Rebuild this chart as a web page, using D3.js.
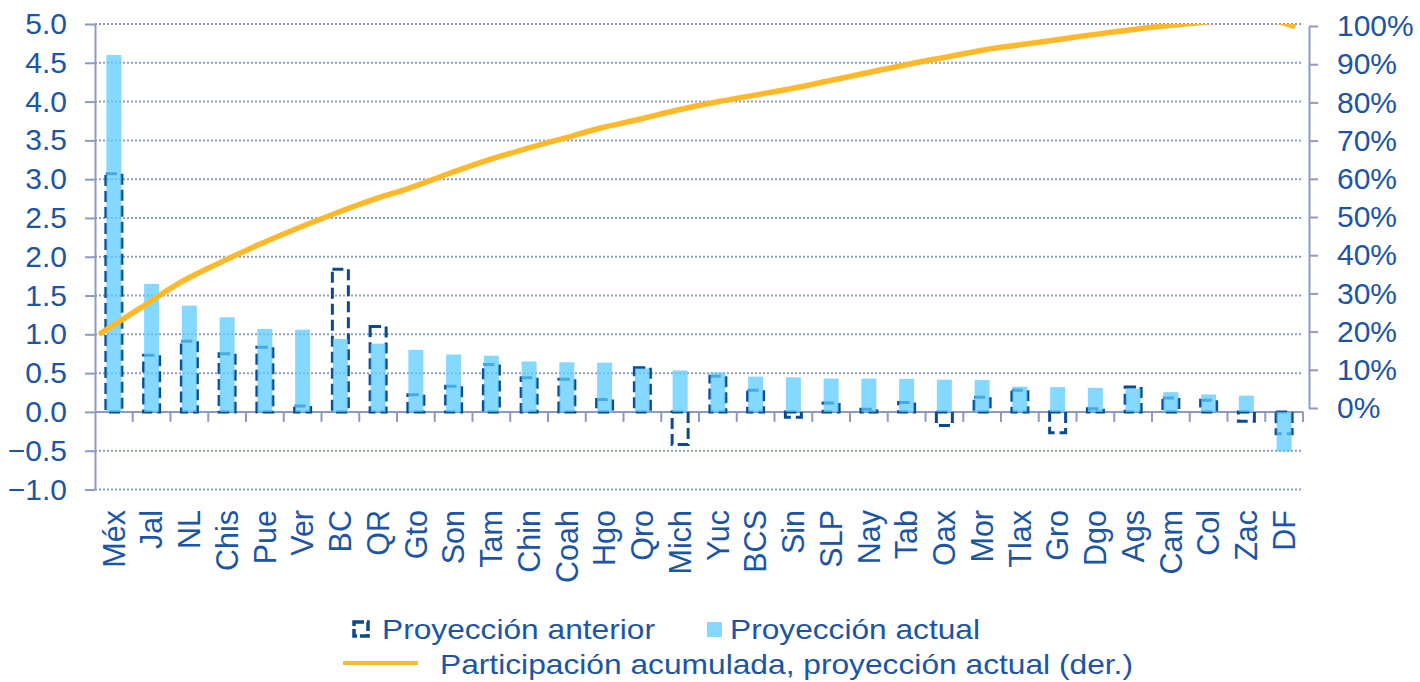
<!DOCTYPE html>
<html>
<head>
<meta charset="utf-8">
<script src="https://cdn.jsdelivr.net/npm/d3@7"></script>
<style>
  body { margin: 0; background: #fff; }
  svg { display: block; font-family: "Liberation Sans", Arial, sans-serif; }
</style>
</head>
<body>
<div id="chart"></div>
<script>
// States (x categories)
const states = ["Méx", "Jal", "NL", "Chis", "Pue", "Ver", "BC", "QR", "Gto", "Son", "Tam", "Chin",
  "Coah", "Hgo", "Qro", "Mich", "Yuc", "BCS", "Sin", "SLP", "Nay", "Tab", "Oax", "Mor",
  "Tlax", "Gro", "Dgo", "Ags", "Cam", "Col", "Zac", "DF"];

// Proyección actual (left axis)
const actual = [4.60, 1.65, 1.37, 1.22, 1.07, 1.06, 0.94, 0.88, 0.80, 0.74, 0.725, 0.65,
  0.64, 0.635, 0.56, 0.535, 0.51, 0.455, 0.445, 0.43, 0.43, 0.425, 0.415, 0.41,
  0.325, 0.32, 0.31, 0.30, 0.255, 0.225, 0.21, -0.51];

// Proyección anterior (left axis)
const previous = [3.07, 0.73, 0.91, 0.75, 0.835, 0.075, 1.84, 1.10, 0.22, 0.33, 0.61, 0.44,
  0.42, 0.16, 0.57, -0.42, 0.46, 0.28, -0.07, 0.115, 0.035, 0.12, -0.175, 0.19,
  0.28, -0.27, 0.04, 0.32, 0.18, 0.15, -0.12, -0.28];

// Participación acumulada, proyección actual (right axis, %)
const cumShare = [19.6, 26.0, 32.5, 37.6, 42.3, 46.6, 50.6, 54.3, 57.5, 61.2, 64.7, 67.7,
  70.5, 73.3, 75.6, 78.0, 80.1, 81.9, 83.7, 85.8, 87.9, 90.0, 91.9, 93.8,
  95.2, 96.6, 98.0, 99.3, 100.3, 101.3, 102.2, 100.0];

const leftTicks = [-1, -0.5, 0, 0.5, 1, 1.5, 2, 2.5, 3, 3.5, 4, 4.5, 5];
const rightTicks = [0, 10, 20, 30, 40, 50, 60, 70, 80, 90, 100];

const legendLabels = ["Proyección anterior", "Proyección actual",
  "Participación acumulada, proyección actual (der.)"];

const width = 1420, height = 682;
const plot = {left: 95, right: 1303, top: 24, bottom: 489.5};

const textColor = "#1c55a5",
      axisColor = "#8f9ac2",
      darkBlue = "#0b4a8e",
      lightBlue = "#5ccbff",
      orange = "#fdb92a";

const svg = d3.select("#chart").append("svg")
    .attr("width", width)
    .attr("height", height);

// Scales
const x = d3.scaleBand()
    .domain(states)
    .range([plot.left, plot.right])
    .padding(0);

const xLine = d3.scalePoint()
    .domain(states)
    .range([101, 1293]);

const y = d3.scaleLinear()
    .domain([-1, 5])
    .range([plot.bottom, plot.top]);

const yRight = d3.scaleLinear()
    .domain([0, 100])
    .range([408, 26]);

// Dotted gridlines
svg.append("g")
  .selectAll("line")
  .data(leftTicks.filter(d => d !== 0))
  .enter()
  .append("line")
    .attr("x1", plot.left)
    .attr("x2", plot.right)
    .attr("y1", d => y(d))
    .attr("y2", d => y(d))
    .attr("stroke", axisColor)
    .attr("stroke-width", 2)
    .attr("stroke-dasharray", "2,2");

// Left axis
const leftAxis = svg.append("g")
    .attr("transform", `translate(${plot.left},0)`)
    .call(d3.axisLeft(y).tickValues(leftTicks).tickFormat(d3.format(".1f"))
      .tickSize(10).tickSizeOuter(0).tickPadding(18));

// Right axis
const rightAxis = svg.append("g")
    .attr("transform", "translate(1309,0)")
    .call(d3.axisRight(yRight).tickValues(rightTicks).tickFormat(d => d + "%")
      .tickSize(9).tickSizeOuter(0).tickPadding(19));

[leftAxis, rightAxis].forEach(g => {
  g.attr("font-family", null).attr("font-size", null);
  g.selectAll("path, line").attr("stroke", axisColor).attr("stroke-width", 2);
  g.selectAll("text")
    .attr("fill", textColor)
    .style("font-size", "30px");
});

// Zero line with category ticks
svg.append("line")
    .attr("x1", plot.left)
    .attr("x2", plot.right)
    .attr("y1", y(0))
    .attr("y2", y(0))
    .attr("stroke", axisColor)
    .attr("stroke-width", 2);

svg.append("g")
  .selectAll("line")
  .data(states.slice(1).map(d => x(d)).concat([plot.right]))
  .enter()
  .append("line")
    .attr("x1", d => d)
    .attr("x2", d => d)
    .attr("y1", y(0))
    .attr("y2", y(0) + 10)
    .attr("stroke", axisColor)
    .attr("stroke-width", 2);

// Category labels (rotated)
svg.append("g")
  .selectAll("text")
  .data(states)
  .enter()
  .append("text")
    .attr("transform", d => `translate(${x(d) + x.bandwidth() / 2},510) rotate(-90)`)
    .attr("text-anchor", "end")
    .attr("dy", "0.35em")
    .attr("fill", textColor)
    .style("font-size", "30.5px")
    .text(d => d);

// Previous projection: dashed outline bars
const prevW = 16, actW = 15;
svg.append("g")
  .selectAll("rect")
  .data(previous)
  .enter()
  .append("rect")
    .attr("x", (d, i) => x(states[i]) + x.bandwidth() / 2 - prevW / 2)
    .attr("y", d => y(Math.max(0, d)))
    .attr("width", prevW)
    .attr("height", d => Math.abs(y(d) - y(0)))
    .attr("fill", "none")
    .attr("stroke", darkBlue)
    .attr("stroke-width", 3)
    .attr("stroke-dasharray", "11,5");

// Current projection: light blue bars
svg.append("g")
  .selectAll("rect")
  .data(actual)
  .enter()
  .append("rect")
    .attr("x", (d, i) => x(states[i]) + x.bandwidth() / 2 - actW / 2)
    .attr("y", d => y(Math.max(0, d)))
    .attr("width", actW)
    .attr("height", d => Math.abs(y(d) - y(0)))
    .attr("fill", lightBlue)
    .attr("fill-opacity", 0.75);

// Cumulative share line (clipped to plot area)
svg.append("clipPath")
    .attr("id", "plot-clip")
  .append("rect")
    .attr("x", plot.left)
    .attr("y", plot.top)
    .attr("width", plot.right - plot.left)
    .attr("height", plot.bottom - plot.top);

const line = d3.line()
    .x((d, i) => xLine(states[i]))
    .y(d => yRight(d))
    .curve(d3.curveMonotoneX);

svg.append("path")
    .datum(cumShare)
    .attr("clip-path", "url(#plot-clip)")
    .attr("d", line)
    .attr("fill", "none")
    .attr("stroke", orange)
    .attr("stroke-width", 5.5)
    .attr("stroke-linecap", "round");

// Legend (text slightly widened, as in the original)
const legend = svg.append("g")
    .style("font-size", "28.5px")
    .attr("fill", textColor);

legend.append("rect")
    .attr("x", 354).attr("y", 622)
    .attr("width", 14).attr("height", 14)
    .attr("fill", "none")
    .attr("stroke", darkBlue)
    .attr("stroke-width", 3.5)
    .attr("stroke-dasharray", "10,3");

legend.append("text")
    .attr("x", 382).attr("y", 629)
    .attr("dy", "0.35em")
    .attr("textLength", 273)
    .attr("lengthAdjust", "spacingAndGlyphs")
    .text(legendLabels[0]);

legend.append("rect")
    .attr("x", 707).attr("y", 622)
    .attr("width", 15).attr("height", 15)
    .attr("fill", lightBlue)
    .attr("fill-opacity", 0.75);

legend.append("text")
    .attr("x", 730).attr("y", 629)
    .attr("dy", "0.35em")
    .attr("textLength", 250)
    .attr("lengthAdjust", "spacingAndGlyphs")
    .text(legendLabels[1]);

legend.append("line")
    .attr("x1", 343).attr("x2", 418)
    .attr("y1", 663).attr("y2", 663)
    .attr("stroke", orange)
    .attr("stroke-width", 4);

legend.append("text")
    .attr("x", 440).attr("y", 664)
    .attr("dy", "0.35em")
    .attr("textLength", 693)
    .attr("lengthAdjust", "spacingAndGlyphs")
    .text(legendLabels[2]);
</script>
</body>
</html>
